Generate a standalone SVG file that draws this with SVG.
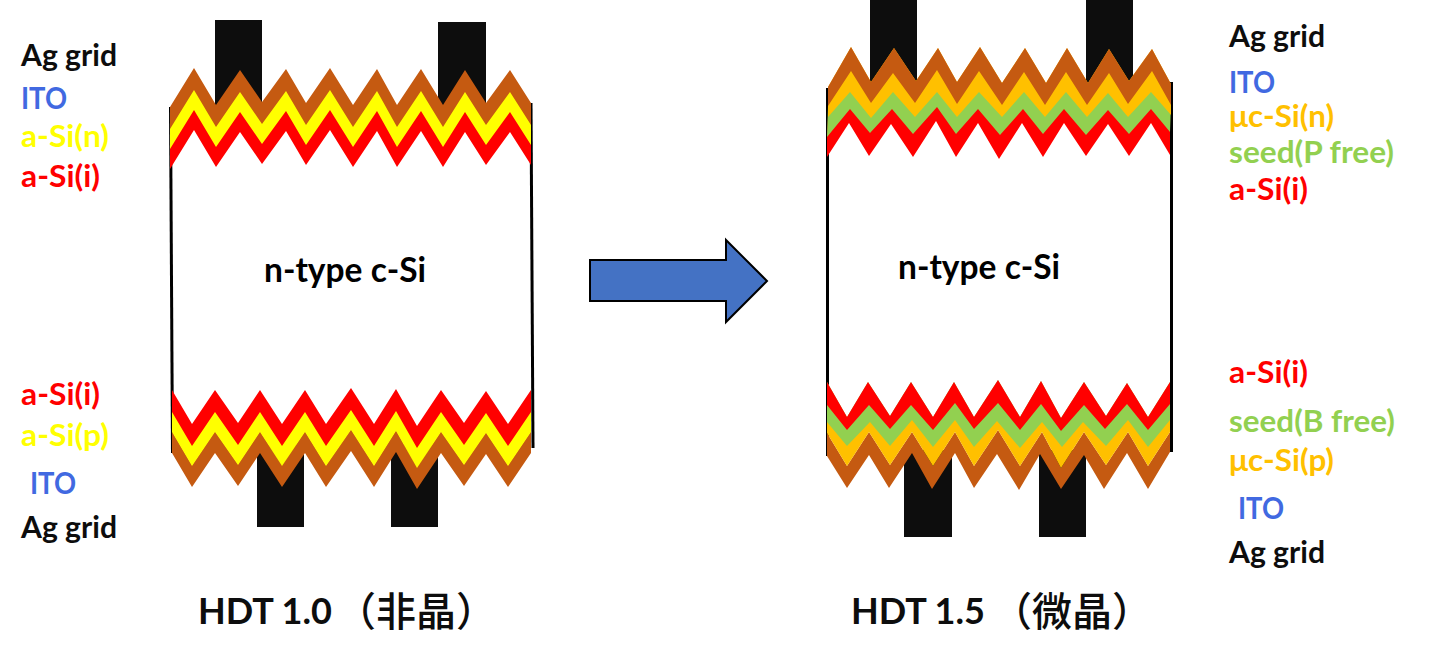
<svg xmlns="http://www.w3.org/2000/svg" xmlns:xlink="http://www.w3.org/1999/xlink" width="1438" height="661" viewBox="0 0 1438 661">
<style>
text{font-family:"Lato","Liberation Sans","Noto Sans CJK SC",sans-serif;font-weight:700;font-size:30px}
.big{font-size:36.500px}
.mid{font-size:33.500px}
.cjk{font-family:"Noto Sans CJK SC","Noto Sans CJK JP",sans-serif;font-weight:500;font-size:40px}
.k{fill:#0d0d0d}.b{fill:#4169e1}.y{fill:#ffff00}.r{fill:#ff0000}.o{fill:#ffc000}.g{fill:#92d050}
.grid{fill:#0d0d0d}
.edge{stroke:#000;stroke-width:3;fill:none}
.brown{fill:#c55a11}
</style>
<defs>
<polygon id="zigTop" points="170,107 194,68 216,105 240,70 262,102 286,69 306,103 330,68 353,105 377,69 397,105 421,69 443,105 465,70 486,103 510,70 531,103 531,125 510,92 486,125 465,92 443,127 421,91 397,127 377,91 353,127 330,90 306,125 286,91 262,124 240,92 216,127 194,90 170,129"/>
<polygon id="zigBot" points="172,390 192,424 215,390 238,423 260,390 282,424 305,390 326,424 351,388 374,424 396,389 417,426 441,390 464,423 486,391 508,424 531,390 531,412 508,446 486,413 464,445 441,412 417,448 396,411 374,446 351,410 326,446 305,412 282,446 260,412 238,445 215,412 192,446 172,412"/>
</defs>

<g id="cell-left">
<line class="edge" x1="170.500" y1="107" x2="172.500" y2="453"/>
<line class="edge" x1="531" y1="103" x2="533" y2="448"/>
<rect class="grid" x="215" y="20" width="47" height="88"/>
<rect class="grid" x="438" y="22" width="48" height="86"/>
<rect class="grid" x="257" y="445" width="47" height="82"/>
<rect class="grid" x="391" y="445" width="47" height="82"/>
<use xlink:href="#zigTop" href="#zigTop" y="40" fill="#ff0000"/>
<use xlink:href="#zigTop" href="#zigTop" y="20" fill="#ffff00"/>
<use xlink:href="#zigTop" href="#zigTop" class="brown"/>
<use xlink:href="#zigBot" href="#zigBot" y="41" class="brown"/>
<use xlink:href="#zigBot" href="#zigBot" y="20" fill="#ffff00"/>
<use xlink:href="#zigBot" href="#zigBot" fill="#ff0000"/>
<text class="mid" x="264" y="282" textLength="162" lengthAdjust="spacingAndGlyphs">n-type c-Si</text>
</g>

<g id="cell-right">
<line class="edge" x1="827.500" y1="88" x2="827.500" y2="456"/>
<line class="edge" x1="1171.500" y1="82" x2="1171.500" y2="452"/>
<rect class="grid" x="870" y="0" width="47" height="88"/>
<rect class="grid" x="1086" y="0" width="47" height="88"/>
<rect class="grid" x="904" y="450" width="48" height="87"/>
<rect class="grid" x="1039" y="450" width="47" height="87"/>
<polygon fill="#ff0000" points="828,117 850,92 871,118 893,92 915,117 937,92 957,117 979,92 1002,117 1024,92 1045,117 1066,92 1087,117 1108,93 1128,117 1151,92 1170,115 1170,155 1151,123 1129,156 1108,124 1086,156 1064,123 1043,157 1022,123 999,159 978,123 956,157 936,121 913,157 891,124 869,156 849,123 827,157 827,137"/>
<polygon fill="#92d050" points="828,106 851,71 871,103 893,73 915,103 937,70 957,104 979,71 1002,105 1024,72 1045,105 1066,72 1087,105 1109,73 1128,104 1152,71 1171,105 1170,132 1151,109 1129,134 1108,110 1086,135 1064,109 1043,134 1023,109 1000,135 978,109 956,134 937,107 913,134 892,109 870,133 850,109 827,137"/>
<polygon fill="#ffc000" points="828,87 851,47 871,82 894,48 916,81 938,48 957,82 980,47 1002,83 1025,48 1046,83 1067,48 1088,83 1109,49 1129,81 1152,49 1171,84 1171,115 1151,92 1128,117 1108,93 1087,117 1066,92 1045,117 1024,92 1002,117 979,92 957,117 937,92 915,117 893,92 871,118 850,92 828,117"/>
<polygon class="brown" points="828,87 851,47 871,82 894,48 916,81 938,48 957,82 980,47 1002,83 1025,48 1046,83 1067,48 1088,83 1109,49 1129,81 1152,49 1171,84 1171,105 1152,71 1128,104 1109,73 1087,105 1066,72 1045,105 1024,72 1002,105 979,71 957,104 937,70 915,103 893,73 871,103 851,71 828,106"/>
<polygon class="brown" points="827,433 847,466 869,432 890,465 912,432 933,466 955,432 974,466 998,430 1020,466 1042,432 1061,468 1084,432 1106,465 1128,432 1148,466 1170,432 1170,452 1148,489 1127,453 1104,489 1084,455 1061,489 1040,454 1019,490 997,454 974,488 955,453 932,489 912,453 889,488 869,455 847,488 827,456"/>
<polygon fill="#ffc000" points="827,405 847,430 869,405 890,429 911,405 933,430 955,403 974,429 998,403 1020,430 1041,404 1061,431 1084,405 1105,429 1127,404 1148,430 1170,404 1170,432 1148,466 1128,432 1106,465 1084,432 1061,468 1042,432 1020,466 998,430 974,466 955,432 933,466 912,432 890,465 869,432 847,466 827,433"/>
<polygon fill="#92d050" points="827,382 847,417 868,382 890,416 911,382 933,417 954,382 974,417 998,380 1020,417 1041,381 1061,418 1084,382 1106,416 1127,383 1148,417 1170,382 1170,420 1148,447 1128,420 1106,446 1083,422 1062,447 1042,422 1020,448 997,421 974,447 955,420 933,447 912,420 890,446 870,422 847,446 827,422"/>
<polygon fill="#ff0000" points="827,382 847,417 868,382 890,416 911,382 933,417 954,382 974,417 998,380 1020,417 1041,381 1061,418 1084,382 1106,416 1127,383 1148,417 1170,382 1170,404 1148,430 1127,404 1105,429 1084,405 1061,431 1041,404 1020,430 998,403 974,429 955,403 933,430 911,405 890,429 869,405 847,430 827,405"/>
<text class="mid" x="898" y="279" textLength="162" lengthAdjust="spacingAndGlyphs">n-type c-Si</text>
</g>

<g id="connectors">
<polygon points="590,260 726,260 726,240 767,281 726,322 726,301 590,301" fill="#4472c4" stroke="#000" stroke-width="2"/>
</g>

<g id="labels-left">
<text class="k" x="21" y="66" textLength="96" lengthAdjust="spacingAndGlyphs">Ag grid</text>
<text class="b" x="21" y="109" textLength="46" lengthAdjust="spacingAndGlyphs">ITO</text>
<text class="y" x="21" y="147" textLength="88" lengthAdjust="spacingAndGlyphs">a-Si(n)</text>
<text class="r" x="21" y="187" textLength="79" lengthAdjust="spacingAndGlyphs">a-Si(i)</text>
<text class="r" x="21" y="405" textLength="79" lengthAdjust="spacingAndGlyphs">a-Si(i)</text>
<text class="y" x="21" y="446" textLength="88" lengthAdjust="spacingAndGlyphs">a-Si(p)</text>
<text class="b" x="30" y="494" textLength="46" lengthAdjust="spacingAndGlyphs">ITO</text>
<text class="k" x="21" y="538" textLength="96" lengthAdjust="spacingAndGlyphs">Ag grid</text>
<text class="big k" x="198" y="624" textLength="134" lengthAdjust="spacingAndGlyphs">HDT 1.0</text>
<text class="cjk k" x="336" y="626">（非晶）</text>
</g>

<g id="labels-right">
<text class="k" x="1229" y="47" textLength="96" lengthAdjust="spacingAndGlyphs">Ag grid</text>
<text class="b" x="1229" y="93" textLength="46" lengthAdjust="spacingAndGlyphs">ITO</text>
<text class="o" x="1229" y="127" textLength="105" lengthAdjust="spacingAndGlyphs">μc-Si(n)</text>
<text class="g" x="1229" y="163" textLength="165" lengthAdjust="spacingAndGlyphs">seed(P free)</text>
<text class="r" x="1229" y="200" textLength="79" lengthAdjust="spacingAndGlyphs">a-Si(i)</text>
<text class="r" x="1229" y="383" textLength="79" lengthAdjust="spacingAndGlyphs">a-Si(i)</text>
<text class="g" x="1229" y="432" textLength="166" lengthAdjust="spacingAndGlyphs">seed(B free)</text>
<text class="o" x="1229" y="471" textLength="105" lengthAdjust="spacingAndGlyphs">μc-Si(p)</text>
<text class="b" x="1238" y="519" textLength="46" lengthAdjust="spacingAndGlyphs">ITO</text>
<text class="k" x="1229" y="563" textLength="96" lengthAdjust="spacingAndGlyphs">Ag grid</text>
<text class="big k" x="851" y="624" textLength="134" lengthAdjust="spacingAndGlyphs">HDT 1.5</text>
<text class="cjk k" x="992" y="626">（微晶）</text>
</g>
</svg>
